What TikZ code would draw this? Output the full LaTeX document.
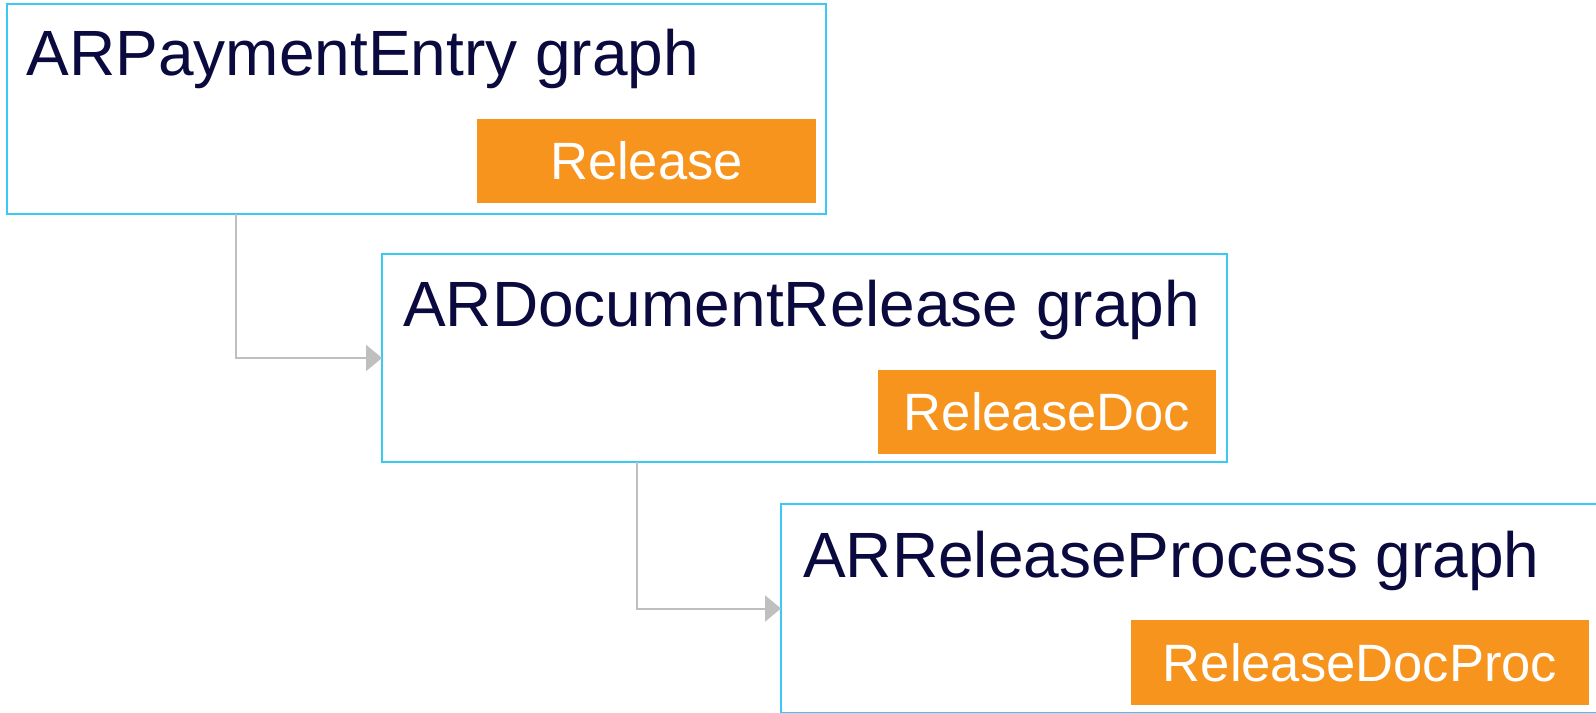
\documentclass[tikz,border=0pt]{standalone}
\usepackage{fontspec}
\setmainfont{Liberation Sans}
\usetikzlibrary{arrows.meta}
\definecolor{frameblue}{HTML}{3BC8F5}
\definecolor{tagorange}{HTML}{F7941E}
\definecolor{linkgray}{HTML}{BFBFBF}
\definecolor{titlenavy}{HTML}{0A0A3F}
\tikzset{
  graphbox/.style={draw=frameblue, line width=1.5pt, fill=white, rectangle,
    anchor=north west, inner sep=0pt, outer sep=0pt},
  graphtitle/.style={anchor=base west, inner sep=0pt, text=titlenavy,
    font=\fontsize{48pt}{48pt}\selectfont},
  tagbox/.style={fill=tagorange, rectangle, anchor=north west, inner sep=0pt,
    outer sep=0pt, text=white, font=\fontsize{39.4pt}{39.4pt}\selectfont},
  link/.style={draw=linkgray, line width=1.5pt,
    -{Triangle[length=12pt,width=19.5pt]}}
}
\begin{document}
\begin{tikzpicture}[x=0.75pt,y=-0.75pt]
  \useasboundingbox (0,0) rectangle (1596,713);
  \fill[white] (0,0) rectangle (1596,713);

  % graph boxes
  \node[graphbox, minimum width={819*0.75pt}, minimum height={210*0.75pt}] (g1) at (7,4) {};
  \node[graphbox, minimum width={845*0.75pt}, minimum height={208*0.75pt}] (g2) at (382,254) {};
  \node[graphbox, minimum width={818*0.75pt}, minimum height={209*0.75pt}] (g3) at (781,504) {};

  % titles
  \node[graphtitle] (t1) at (26.5,76) {ARPaymentEntry graph};
  \node[graphtitle] (t2) at (403,326) {ARDocumentRelease graph};
  \node[graphtitle] (t3) at (803,577) {ARReleaseProcess graph};

  % action tags
  \node[tagbox, minimum width={339*0.75pt}, minimum height={84*0.75pt}] (a1) at (477,119) {Release};
  \node[tagbox, minimum width={338*0.75pt}, minimum height={84*0.75pt}] (a2) at (878,370) {ReleaseDoc};
  \node[tagbox, minimum width={458*0.75pt}, minimum height={85*0.75pt}] (a3) at (1131,620) {ReleaseDocProc};

  % call links
  \draw[link] ([xshift={229*0.75pt}]g1.south west) |- (g2.west);
  \draw[link] ([xshift={255*0.75pt}]g2.south west) |- (g3.west);
\end{tikzpicture}
\end{document}
